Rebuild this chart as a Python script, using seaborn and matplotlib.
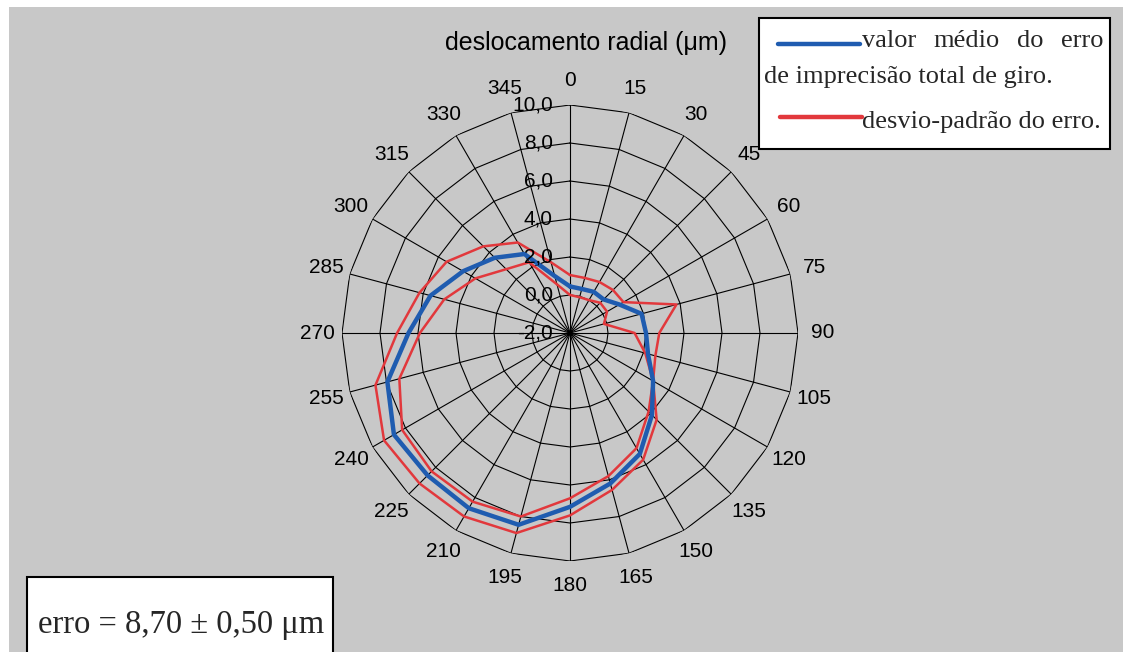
import numpy as np
import pandas as pd
import matplotlib
matplotlib.use("Agg")
import matplotlib.pyplot as plt
import seaborn as sns
from matplotlib.patches import Rectangle
from matplotlib.lines import Line2D

# Angular positions (degrees, clockwise from the top)
angulos = list(range(0, 360, 15))

# Radial displacement (µm) at each angle
valor_medio = [0.45, 0.40, 0.50, 0.50, 1.00, 1.90, 2.00, 2.25, 3.05, 4.10, 5.35, 6.20,
               7.15, 8.45, 8.65, 8.60, 8.70, 7.95, 6.50, 5.60, 4.50, 3.60, 2.80, 1.10]
desvio_superior = [1.05, 1.00, 1.10, 1.20, 1.25, 3.80, 2.70, 2.65, 3.05, 4.45, 5.70, 6.55,
                   7.60, 8.90, 9.15, 9.20, 9.30, 8.60, 7.10, 6.20, 5.50, 4.45, 3.50, 1.85]
desvio_inferior = [0.00, -0.05, 0.00, 0.25, 0.25, -0.15, 1.40, 2.10, 3.05, 3.85, 5.00, 5.80,
                   6.70, 8.00, 8.25, 8.30, 8.20, 7.30, 5.90, 4.85, 3.75, 2.75, 2.30, 0.65]

niveis = [-2, 0, 2, 4, 6, 8, 10]
rotulos_niveis = ["-2,0", "0,0", "2,0", "4,0", "6,0", "8,0", "10,0"]
rotulos_angulos = [str(a) for a in angulos]

titulo = "deslocamento radial (\u03bcm)"
legenda_linha1 = ["valor", "médio", "do", "erro"]
legenda_linha2 = "de imprecisão total de giro."
legenda_linha3 = "desvio-padrão do erro."
texto_erro = "erro = 8,70 \u00b1 0,50 \u03bcm"

AZUL = "#1f5cb0"
VERMELHO = "#e2383c"

sns.set_theme(style="white")
plt.rcParams["font.family"] = ["Liberation Sans", "DejaVu Sans"]

W, H = 1123, 652
fig = plt.figure(figsize=(W / 100, H / 100), dpi=100)
fig.patch.set_facecolor("white")
fig.patches.append(Rectangle((9 / W, 0), 1, (H - 7) / H, transform=fig.transFigure,
                             facecolor="#c8c8c8", edgecolor="none", zorder=-10))

# Radar chart: polar axes with polygonal grid
cx, cy, R = 570, 333, 228
ax = fig.add_axes([(cx - R) / W, (H - cy - R) / H, 2 * R / W, 2 * R / H], projection="polar")
ax.set_theta_zero_location("N")
ax.set_theta_direction(-1)
ax.set_ylim(-2, 10)
ax.grid(False)
ax.set_xticks([])
ax.set_yticks([])
ax.spines["polar"].set_visible(False)
ax.patch.set_alpha(0)

theta = np.deg2rad(angulos)
theta_fechado = np.append(theta, 2 * np.pi)

for nivel in niveis[1:]:
    ax.plot(theta_fechado, [nivel] * len(theta_fechado), color="black", lw=0.8, zorder=1)
for t in theta:
    ax.plot([t, t], [-2, 10], color="black", lw=0.8, zorder=1)


def fechar(valores):
    return list(valores) + [valores[0]]


df = pd.DataFrame({
    "theta": theta_fechado,
    "media": fechar(valor_medio),
    "sup": fechar(desvio_superior),
    "inf": fechar(desvio_inferior),
})

for col in ["sup", "inf"]:
    sns.lineplot(data=df, x="theta", y=col, sort=False, estimator=None, ax=ax,
                 color=VERMELHO, linewidth=1.8, zorder=3)
sns.lineplot(data=df, x="theta", y="media", sort=False, estimator=None, ax=ax,
             color=AZUL, linewidth=3.2, zorder=4)
ax.set_xlabel("")
ax.set_ylabel("")

# Angle labels around the outer ring
for t, lbl in zip(theta, rotulos_angulos):
    ax.text(t, 11.3, lbl, ha="center", va="center", fontsize=15, color="black")

# Radial value labels along the 0° spoke
for nivel, lbl in zip(niveis, rotulos_niveis):
    ax.annotate(lbl, xy=(0, nivel), xytext=(-17, 0), textcoords="offset pixels",
                ha="right", va="center", fontsize=15, color="black", zorder=5)

fig.text(586 / W, 1 - 50 / H, titulo, ha="center", va="baseline", fontsize=18, color="black")

# Legend box
serif = ["Liberation Serif", "DejaVu Serif"]
fig.patches.append(Rectangle((759 / W, 1 - 149 / H), (1110 - 759) / W, (149 - 18) / H,
                             transform=fig.transFigure, facecolor="white",
                             edgecolor="black", lw=1.5, zorder=5))
fig.lines.append(Line2D([778 / W, 860 / W], [1 - 44 / H] * 2, transform=fig.transFigure,
                        color=AZUL, lw=3.2, zorder=6))
fig.lines.append(Line2D([780 / W, 862 / W], [1 - 117 / H] * 2, transform=fig.transFigure,
                        color=VERMELHO, lw=3.2, zorder=6))

# First legend line is justified between the sample line and the right border
renderer = fig.canvas.get_renderer()
palavras = [fig.text(0, 1 - 47 / H, p, ha="left", va="baseline", fontsize=19,
                     family=serif, zorder=7) for p in legenda_linha1]
larguras = [t.get_window_extent(renderer).width for t in palavras]
x0, x1 = 862, 1103
folga = (x1 - x0 - sum(larguras)) / (len(palavras) - 1)
x = x0
for t, w in zip(palavras, larguras):
    t.set_x(x / W)
    x += w + folga

fig.text(764 / W, 1 - 83 / H, legenda_linha2, ha="left", va="baseline", fontsize=19,
         family=serif, zorder=7)
fig.text(862 / W, 1 - 128 / H, legenda_linha3, ha="left", va="baseline", fontsize=19,
         family=serif, zorder=7)

# Summary box in the lower-left corner
fig.patches.append(Rectangle((27 / W, -0.05), (333 - 27) / W, 0.05 + (652 - 577) / H,
                             transform=fig.transFigure, facecolor="white",
                             edgecolor="black", lw=1.5, zorder=5))
fig.text(38 / W, 1 - 633 / H, texto_erro, ha="left", va="baseline", fontsize=23.5,
         family=serif, zorder=7)

fig.savefig("out.png", dpi=100, facecolor=fig.get_facecolor())
